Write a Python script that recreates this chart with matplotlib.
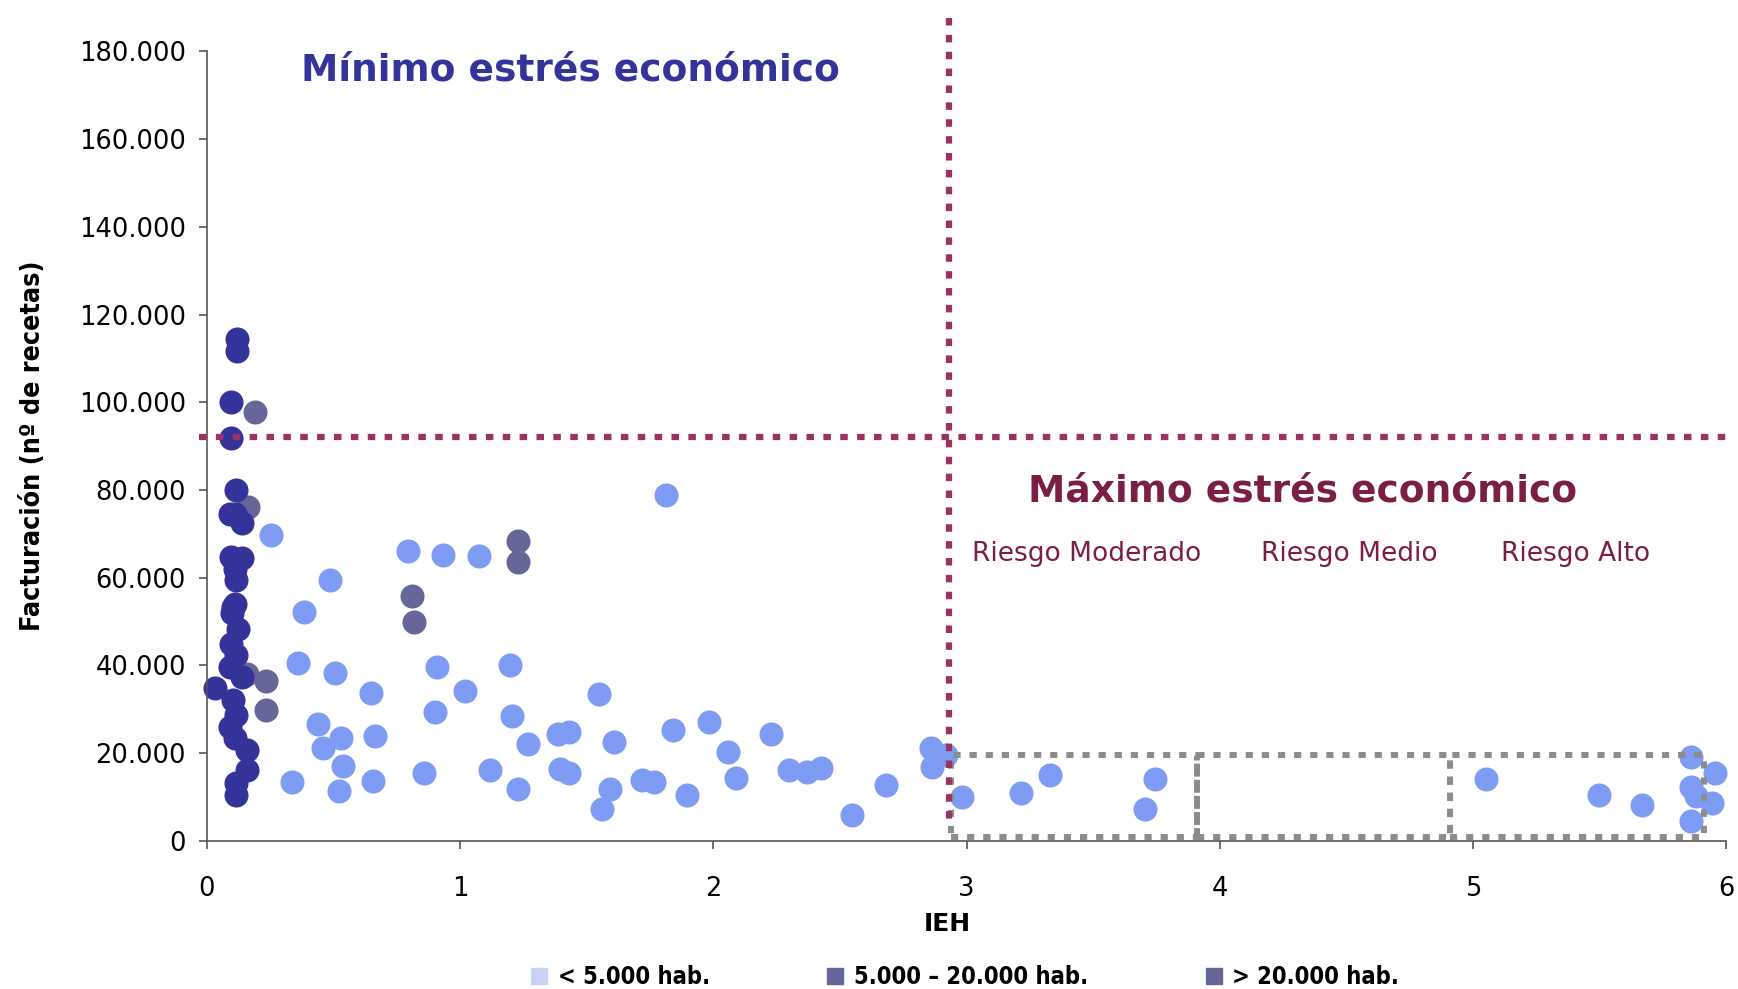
import matplotlib
matplotlib.use("Agg")
import matplotlib.pyplot as plt
from matplotlib.lines import Line2D
from matplotlib.ticker import FuncFormatter

# ----------------------------
# Datos (IEH, facturación en miles de recetas)
# ----------------------------
# > 20.000 hab. (azul oscuro)
grande_ieh = [0.12, 0.12, 0.095, 0.095, 0.117, 0.091, 0.11, 0.137, 0.097, 0.137,
              0.11, 0.117, 0.11, 0.104, 0.1, 0.124, 0.097, 0.117, 0.091, 0.137,
              0.034, 0.104, 0.117, 0.091, 0.11, 0.157, 0.157, 0.117, 0.117]
grande_rec = [114.5, 111.7, 100.1, 91.9, 80.1, 74.5, 74.6, 72.4, 64.8, 64.6,
              62.1, 59.4, 54.1, 53.4, 51.9, 48.4, 45.0, 42.4, 39.7, 37.3,
              34.8, 32.1, 28.7, 26.0, 23.4, 20.7, 16.2, 13.1, 10.5]

# 5.000 - 20.000 hab. (gris azulado)
medio_ieh = [0.19, 0.163, 0.16, 0.232, 0.232, 0.811, 0.818, 1.227, 1.227]
medio_rec = [97.8, 76.1, 38.0, 36.5, 29.8, 55.8, 49.9, 68.4, 63.5]

# < 5.000 hab. (azul claro)
peq_ieh = [0.255, 0.36, 0.385, 0.337, 0.44, 0.457, 0.488, 0.505, 0.53, 0.538,
           0.521, 0.648, 0.666, 0.658, 0.795, 0.859, 0.9, 0.908, 0.931, 1.02,
           1.076, 1.117, 1.196, 1.204, 1.229, 1.268, 1.388, 1.396, 1.43, 1.43,
           1.549, 1.56, 1.591, 1.607, 1.717, 1.767, 1.814, 1.839, 1.895, 1.984,
           2.058, 2.089, 2.226, 2.298, 2.371, 2.427, 2.548, 2.683, 2.861, 2.92,
           2.865, 2.98, 3.216, 3.328, 3.705, 3.745, 5.049, 5.498, 5.667, 5.861,
           5.956, 5.861, 5.88, 5.943, 5.861]
peq_rec = [69.8, 40.5, 52.2, 13.5, 26.6, 21.3, 59.4, 38.3, 23.5, 17.1,
           11.3, 33.8, 23.9, 13.6, 66.2, 15.4, 29.3, 39.6, 65.3, 34.2,
           64.9, 16.2, 40.1, 28.5, 11.8, 22.1, 24.4, 16.3, 24.8, 15.4,
           33.4, 7.3, 11.8, 22.5, 14.0, 13.5, 78.8, 25.3, 10.4, 27.1,
           20.3, 14.4, 24.4, 16.2, 15.8, 16.7, 5.9, 12.7, 21.3, 19.6,
           16.8, 10.0, 10.9, 15.0, 7.3, 14.1, 14.1, 10.5, 8.2, 19.2,
           15.4, 12.4, 10.3, 8.6, 4.6]

# umbrales de estrés económico
umbral_ieh = 2.93
umbral_rec = 92.0

# zonas de riesgo (límites en IEH)
riesgo_limites = [2.94, 3.91, 4.91, 5.91]
riesgo_nombres = ["Riesgo Moderado", "Riesgo Medio", "Riesgo Alto"]
riesgo_pos = [3.475, 4.511, 5.406]

leyenda = ["< 5.000 hab.", "5.000 \u2013 20.000 hab.", "> 20.000 hab."]

# colores
c_claro = "#7F9CF5"
c_medio = "#666699"
c_oscuro = "#333399"
c_granate = "#993366"
c_texto_granate = "#7A1E46"
c_gris = "#8C8C8C"

fig = plt.figure(figsize=(17.38, 9.89), dpi=100, facecolor="white")
ax = fig.add_axes([0.119, 0.1497, 0.8743, 0.7983])

s = 300
ax.scatter(peq_ieh, [v * 1000 for v in peq_rec], s=s, c=c_claro, linewidths=0, zorder=2, clip_on=False)
ax.scatter(medio_ieh, [v * 1000 for v in medio_rec], s=s, c=c_medio, linewidths=0, zorder=2, clip_on=False)
ax.scatter(grande_ieh, [v * 1000 for v in grande_rec], s=s, c=c_oscuro, linewidths=0, zorder=2, clip_on=False)

# líneas de umbral
ls_punt = (0, (1.2, 1.5))
ax.plot([-0.03, 6.02], [umbral_rec * 1000] * 2, color=c_granate, lw=4.5,
        linestyle=ls_punt, dash_capstyle="butt", clip_on=False, zorder=4)
ax.plot([umbral_ieh] * 2, [187700, 3500], color=c_granate, lw=4.5,
        linestyle=ls_punt, dash_capstyle="butt", clip_on=False, zorder=4)

# cajas de riesgo
y0, y1 = 800, 19600
for a, b in zip(riesgo_limites[:-1], riesgo_limites[1:]):
    ax.plot([a, b, b, a, a], [y0, y0, y1, y1, y0], color=c_gris, lw=4.3,
            linestyle=ls_punt, dash_capstyle="butt", clip_on=False, zorder=3)

# textos
ax.text(1.434, 173300, "Mínimo estrés económico", color=c_oscuro, fontsize=27,
        fontweight="bold", ha="center", va="baseline")
ax.text(4.328, 77400, "Máximo estrés económico", color=c_texto_granate, fontsize=27,
        fontweight="bold", ha="center", va="baseline")
for nombre, xp in zip(riesgo_nombres, riesgo_pos):
    ax.text(xp, 63800, nombre, color=c_texto_granate, fontsize=19, ha="center", va="baseline")

# ejes
ax.set_xlim(0, 6)
ax.set_ylim(0, 180000)
ax.set_xticks(range(0, 7))
ax.set_yticks(range(0, 180001, 20000))
ax.yaxis.set_major_formatter(FuncFormatter(lambda v, p: f"{int(v):,}".replace(",", ".")))
ax.tick_params(axis="y", labelsize=18.5, length=6, width=1.2, color="#555555", pad=9)
ax.tick_params(axis="x", labelsize=18.5, length=6, width=1.2, color="#555555", pad=19)
for lado in ["top", "right"]:
    ax.spines[lado].set_visible(False)
for lado in ["left", "bottom"]:
    ax.spines[lado].set_color("#555555")
    ax.spines[lado].set_linewidth(1.2)

ax.set_xlabel("IEH", fontsize=18, fontweight="bold")
ax.xaxis.set_label_coords(0.4875, -0.09)
ax.set_ylabel("Facturación (nº de recetas)", fontsize=19.3, fontweight="bold", fontstretch="condensed")
ax.yaxis.set_label_coords(-0.106, 0.5)

# leyenda
handles = [Line2D([], [], marker="s", linestyle="none", markersize=11, color=c)
           for c in ["#C8D2F7", c_medio, c_medio]]
leg = fig.legend(handles, leyenda, loc="center", bbox_to_anchor=(0.555, 0.012), ncol=3,
                 frameon=False, handlelength=0.8, handletextpad=0.4, columnspacing=4.9,
                 prop={"size": 17, "weight": "bold", "stretch": "condensed"})

fig.savefig("out.png", dpi=100, facecolor="white")
